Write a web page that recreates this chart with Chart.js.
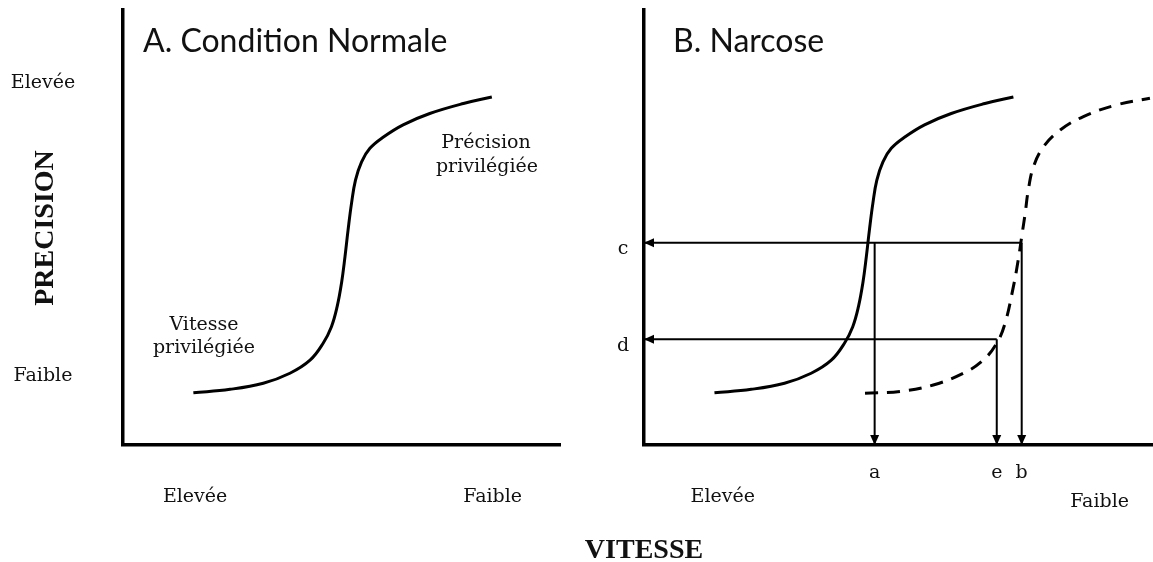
<!DOCTYPE html>
<html>
<head>
<meta charset="utf-8">
<script src="https://cdn.jsdelivr.net/npm/chart.js@4/dist/chart.umd.min.js"></script>
<style>
  html, body { margin: 0; padding: 0; background: #fff; }
  #wrap { position: relative; width: 1153px; height: 562px; }
  #wrap canvas { position: absolute; left: 0; top: 0; }
</style>
</head>
<body>
<div id="wrap">
  <canvas id="chartA" width="1153" height="562"></canvas>
  <canvas id="chartB" width="1153" height="562"></canvas>
</div>
<script>
// courbe vitesse / precision (axes 0-100)
const curveX = [16.1, 24.5, 32.1, 38.2, 42.8, 45.8, 47.7, 49.0, 50.0, 50.8, 51.5, 52.3, 53.2, 54.6, 56.5, 59.6, 64.1, 70.2, 77.9, 84.4];
const curveY = [12.0, 12.8, 14.2, 16.5, 19.5, 23.4, 27.2, 31.8, 37.2, 43.3, 49.4, 55.6, 60.9, 65.1, 68.2, 70.8, 73.6, 76.2, 78.5, 80.0];

// courbe en narcose (pointilles)
const narcoseX = [50.5, 58.5, 66.1, 73.0, 77.5, 80.6, 82.5, 84.4, 85.5, 86.3, 87.1, 87.8, 89.0, 91.3, 95.1, 100.4, 108.0, 115.6];
const narcoseY = [11.9, 12.3, 13.8, 16.5, 19.5, 23.4, 28.0, 36.4, 42.5, 47.9, 53.3, 58.6, 64.0, 68.6, 72.4, 75.5, 78.2, 79.7];

// niveaux de precision c, d et lectures de vitesse a, e, b
const levelNames = ['c', 'd'];
const levelY = [46.5, 24.3];
const readNames = ['a', 'e', 'b'];
const readX = [52.7, 80.6, 86.3];
const readLevel = [0, 1, 0];

// etiquettes des axes
const precisionTicks = ['Faible', 'Elevée'];
const precisionTickVals = [16.4, 83.8];
const speedTicks = ['Elevée', 'Faible'];
const speedTickValsA = [16.5, 84.6];
const speedTickValsB = [18.0, 104.1];

const SERIF = '19px "DejaVu Serif", serif';
const BOLD = 'bold 28px "Liberation Serif", serif';
const TITLE = '32px Lato, sans-serif';
const INK = '#111';

function put(ctx, text, x, y, font, align) {
    ctx.font = font;
    ctx.textAlign = align || 'center';
    ctx.textBaseline = 'alphabetic';
    ctx.fillStyle = INK;
    ctx.fillText(text, x, y);
}

function pts(xs, ys) {
    return xs.map((x, i) => ({ x: x, y: ys[i] }));
}

function curve(xs, ys, dash) {
    return {
        data: pts(xs, ys),
        borderColor: '#000',
        borderWidth: 3,
        borderDash: dash || [],
        pointRadius: 0,
        showLine: true,
        tension: 0.4,
        clip: false
    };
}

function arrow(from, to) {
    return {
        data: [from, to],
        borderColor: '#000',
        borderWidth: 2,
        pointRadius: 0,
        showLine: true,
        arrow: true,
        clip: false
    };
}

// pointes de fleche au dernier point des datasets "arrow"
const arrowHeads = {
    id: 'arrowHeads',
    afterDatasetsDraw(chart) {
        const ctx = chart.ctx;
        chart.data.datasets.forEach((ds, i) => {
            if (!ds.arrow) return;
            const els = chart.getDatasetMeta(i).data;
            const p = els[els.length - 1];
            const q = els[els.length - 2];
            const ang = Math.atan2(p.y - q.y, p.x - q.x);
            ctx.save();
            ctx.translate(p.x, p.y);
            ctx.rotate(ang);
            ctx.beginPath();
            ctx.moveTo(0, 0);
            ctx.lineTo(-10, -4.5);
            ctx.lineTo(-10, 4.5);
            ctx.closePath();
            ctx.fillStyle = '#000';
            ctx.fill();
            ctx.restore();
        });
    }
};

function options(padding, xMax) {
    return {
        responsive: false,
        animation: false,
        events: [],
        layout: { padding: padding },
        plugins: { legend: { display: false }, tooltip: { enabled: false } },
        scales: {
            x: {
                type: 'linear', min: 0, max: xMax,
                grid: { display: false },
                ticks: { display: false },
                border: { color: '#000', width: 3.5 },
                afterFit: s => { s.height = 0; }
            },
            y: {
                type: 'linear', min: 0, max: 100,
                grid: { display: false },
                ticks: { display: false },
                border: { color: '#000', width: 3.5 },
                afterFit: s => { s.width = 0; }
            }
        }
    };
}

// A. Condition normale
new Chart(document.getElementById('chartA'), {
    type: 'scatter',
    data: { datasets: [curve(curveX, curveY)] },
    options: options({ left: 123, right: 593, top: 10, bottom: 117 }, 100),
    plugins: [{
        id: 'textA',
        afterDraw(chart) {
            const ctx = chart.ctx;
            const xs = chart.scales.x, ys = chart.scales.y;
            put(ctx, 'A. Condition Normale', 143, 52, TITLE, 'left');
            precisionTicks.forEach((t, i) => put(ctx, t, 43, ys.getPixelForValue(precisionTickVals[i]) + 7.5, SERIF));
            speedTicks.forEach((t, i) => put(ctx, t, xs.getPixelForValue(speedTickValsA[i]), 502, SERIF));
            put(ctx, 'Vitesse', 204, 330, SERIF);
            put(ctx, 'privilégiée', 204, 353, SERIF);
            put(ctx, 'Précision', 486, 148, SERIF);
            put(ctx, 'privilégiée', 487, 172, SERIF);
            // titres des axes
            ctx.save();
            ctx.translate(53, 228);
            ctx.rotate(-Math.PI / 2);
            put(ctx, 'PRECISION', 0, 0, BOLD);
            ctx.restore();
            put(ctx, 'VITESSE', 644, 558, BOLD);
        }
    }]
});

// B. Narcose
const datasetsB = [curve(curveX, curveY), curve(narcoseX, narcoseY, [13, 9])];
levelNames.forEach((n, li) => {
    const fromX = Math.max(...readX.filter((x, i) => readLevel[i] === li));
    datasetsB.push(arrow({ x: fromX, y: levelY[li] }, { x: 0, y: levelY[li] }));
});
readX.forEach((x, i) => {
    datasetsB.push(arrow({ x: x, y: levelY[readLevel[i]] }, { x: x, y: 0 }));
});

new Chart(document.getElementById('chartB'), {
    type: 'scatter',
    data: { datasets: datasetsB },
    options: options({ left: 644, right: 0, top: 10, bottom: 117 }, 116.3),
    plugins: [arrowHeads, {
        id: 'textB',
        afterDraw(chart) {
            const ctx = chart.ctx;
            const xs = chart.scales.x, ys = chart.scales.y;
            put(ctx, 'B. Narcose', 673, 52, TITLE, 'left');
            levelNames.forEach((n, i) => put(ctx, n, 623, ys.getPixelForValue(levelY[i]) + 11.5, SERIF));
            readNames.forEach((n, i) => put(ctx, n, xs.getPixelForValue(readX[i]), 478, SERIF));
            put(ctx, speedTicks[0], xs.getPixelForValue(speedTickValsB[0]), 502, SERIF);
            put(ctx, speedTicks[1], xs.getPixelForValue(speedTickValsB[1]), 507, SERIF);
        }
    }]
});
</script>
</body>
</html>
